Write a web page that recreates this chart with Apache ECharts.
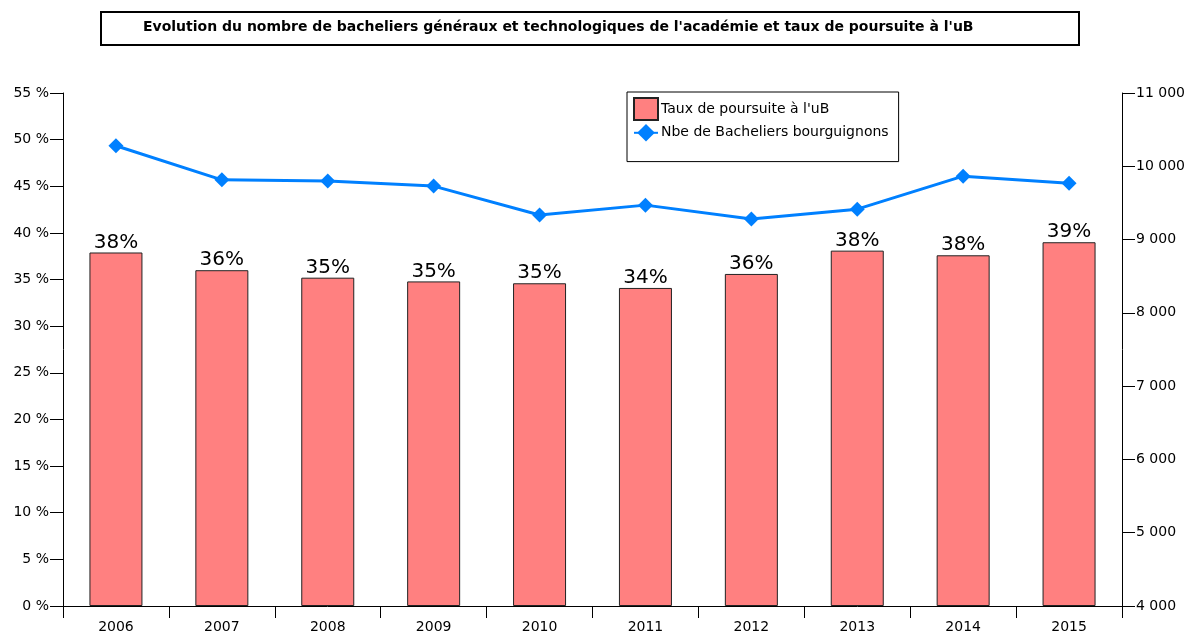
<!DOCTYPE html>
<html>
<head>
<meta charset="utf-8">
<script src="https://cdn.jsdelivr.net/npm/echarts@6/dist/echarts.min.js"></script>
<style>
  html, body { margin: 0; padding: 0; background: #fff; }
  #chart { width: 1186px; height: 635px; }
</style>
</head>
<body>
<div id="chart"></div>
<script>
  // années
  var annees = ['2006', '2007', '2008', '2009', '2010', '2011', '2012', '2013', '2014', '2015'];
  // taux de poursuite à l'uB (%)
  var taux = [37.9, 36.0, 35.2, 34.8, 34.6, 34.1, 35.6, 38.1, 37.6, 39.0];
  // nombre de bacheliers
  var bacheliers = [10280, 9815, 9800, 9730, 9335, 9470, 9280, 9415, 9865, 9770];

  var police = 'DejaVu Sans, Verdana, sans-serif';

  var myChart = echarts.init(document.getElementById('chart'));
  var option = {
    backgroundColor: '#fff',
    animation: false,
    textStyle: { fontFamily: police, color: '#000' },
    graphic: [
      {
        type: 'rect',
        shape: { x: 101, y: 12, width: 978, height: 33 },
        style: { fill: '#fff', stroke: '#000', lineWidth: 2 }
      },
      {
        type: 'text',
        left: 143,
        top: 20,
        style: {
          text: "Evolution du nombre de bacheliers généraux et technologiques de l'académie et taux de poursuite à l'uB",
          font: 'bold 14px ' + police,
          fill: '#000'
        }
      }
    ],
    grid: { left: 63, right: 64, top: 93, bottom: 29, outerBoundsMode: 'none', containLabel: false },
    legend: {
      orient: 'vertical',
      left: 627,
      top: 92,
      padding: [5, 10, 20, 6],
      itemGap: 3,
      itemWidth: 24,
      itemHeight: 22,
      borderColor: '#000',
      borderWidth: 1,
      textStyle: { fontSize: 14, color: '#000', fontFamily: police, padding: [0, 0, 0, -2] },
      data: [
        { name: "Taux de poursuite à l'uB", icon: 'rect' },
        { name: 'Nbe de Bacheliers bourguignons' }
      ]
    },
    xAxis: {
      type: 'category',
      data: annees,
      axisLine: { lineStyle: { color: '#000', width: 1 } },
      axisTick: { show: true, length: 12, lineStyle: { color: '#000' } },
      axisLabel: { color: '#000', fontSize: 14, margin: 14 }
    },
    yAxis: [
      {
        type: 'value',
        min: 0,
        max: 55,
        interval: 5,
        position: 'left',
        axisLine: { show: true, lineStyle: { color: '#000' } },
        axisTick: { show: true, length: 13, lineStyle: { color: '#000' } },
        splitLine: { show: false },
        axisLabel: { formatter: '{value} %', color: '#000', fontSize: 14, margin: 14 }
      },
      {
        type: 'value',
        min: 4000,
        max: 11000,
        interval: 1000,
        position: 'right',
        axisLine: { show: true, lineStyle: { color: '#000' } },
        axisTick: { show: true, length: 13, lineStyle: { color: '#000' } },
        splitLine: { show: false },
        axisLabel: {
          color: '#000',
          fontSize: 14,
          margin: 14,
          formatter: function (v) {
            return String(v).replace(/\B(?=(\d{3})+(?!\d))/g, ' ');
          }
        }
      }
    ],
    series: [
      {
        name: "Taux de poursuite à l'uB",
        type: 'bar',
        yAxisIndex: 0,
        data: taux,
        barWidth: 53,
        itemStyle: { color: '#FF8080', borderColor: '#222', borderWidth: 1 },
        label: {
          show: true,
          position: 'top',
          distance: 0,
          fontSize: 20,
          color: '#000',
          fontFamily: police,
          formatter: function (p) { return Math.round(p.value) + '%'; }
        }
      },
      {
        name: 'Nbe de Bacheliers bourguignons',
        type: 'line',
        yAxisIndex: 1,
        data: bacheliers,
        symbol: 'diamond',
        symbolSize: 15,
        lineStyle: { color: '#0080FF', width: 3 },
        itemStyle: { color: '#0080FF' }
      }
    ]
  };
  myChart.setOption(option);
</script>
</body>
</html>
